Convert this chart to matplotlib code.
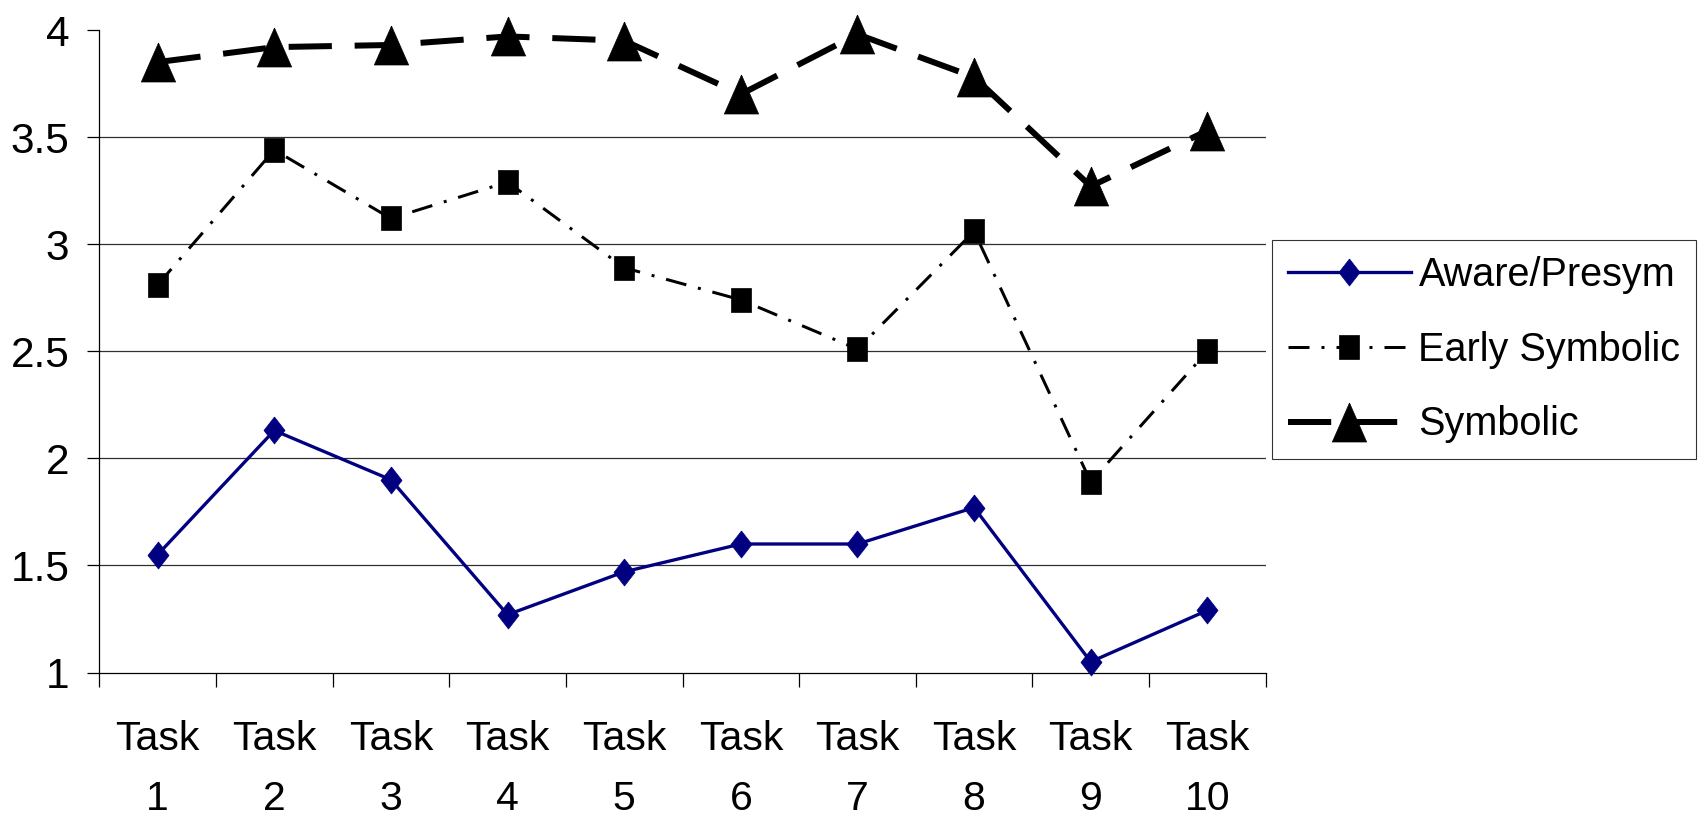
import matplotlib
matplotlib.use("Agg")
import matplotlib.pyplot as plt

# ---- data ----
categories = ["Task 1", "Task 2", "Task 3", "Task 4", "Task 5",
              "Task 6", "Task 7", "Task 8", "Task 9", "Task 10"]
aware = [1.55, 2.13, 1.90, 1.27, 1.47, 1.60, 1.60, 1.77, 1.05, 1.29]
early = [2.81, 3.44, 3.12, 3.29, 2.89, 2.74, 2.51, 3.06, 1.89, 2.50]
symbolic = [3.85, 3.92, 3.93, 3.97, 3.95, 3.70, 3.98, 3.78, 3.27, 3.53]
series_names = ["Aware/Presym", "Early Symbolic", "Symbolic"]
yticks = [1, 1.5, 2, 2.5, 3, 3.5, 4]
ytick_labels = ["1", "1.5", "2", "2.5", "3", "3.5", "4"]

plt.rcParams["font.family"] = ["Liberation Sans", "DejaVu Sans"]

W, H = 1705, 818
fig = plt.figure(figsize=(W / 100, H / 100), dpi=100)
left, right, top, bottom = 99.3, 1265.7, 30.0, 672.5
ax = fig.add_axes([left / W, 1 - bottom / H, (right - left) / W, (bottom - top) / H])

n = len(categories)
x = list(range(1, n + 1))
ax.set_xlim(0.5, n + 0.5)
ax.set_ylim(1, 4)

# gridlines (none at the top value)
for v in yticks[1:-1]:
    ax.axhline(v, color="#303030", lw=0.9, zorder=1)

# markers (slightly tall shapes)
diamond = [(0, 0.5), (0.39, 0), (0, -0.5), (-0.39, 0), (0, 0.5)]
square = [(-0.41, -0.5), (0.41, -0.5), (0.41, 0.5), (-0.41, 0.5), (-0.41, -0.5)]
triangle = [(0, 0.5), (0.44, -0.5), (-0.44, -0.5), (0, 0.5)]

px = 72 / 100  # points per pixel
ax.plot(x, aware, color="#000080", lw=3.3 * px, marker=diamond, ms=27 * px,
        mfc="#000080", mec="#000080", mew=0.5, label=series_names[0],
        clip_on=False, zorder=3)
ax.plot(x, early, color="black", lw=3 * px, linestyle=(0, (7, 4, 1, 4)),
        marker=square, ms=24 * px, mfc="black", mec="black", mew=0.5,
        label=series_names[1], clip_on=False, zorder=4)
ax.plot(x, symbolic, color="black", lw=6 * px, linestyle=(0, (7.2, 3.8)),
        marker=triangle, ms=39 * px, mfc="black", mec="black", mew=0.5,
        label=series_names[2], clip_on=False, zorder=5)

# spines
for s in ["top", "right"]:
    ax.spines[s].set_visible(False)
for s in ["left", "bottom"]:
    ax.spines[s].set_linewidth(0.9)
    ax.spines[s].set_color("black")

# y ticks
ax.set_yticks(yticks)
ax.set_yticklabels(ytick_labels)
ax.tick_params(axis="y", direction="out", length=12 * px, width=0.9,
               pad=18 * px, labelsize=30.5, colors="black")

# x ticks: boundaries as major ticks, labels on minor ticks at centres
ax.set_xticks([i + 0.5 for i in range(0, n + 1)])
ax.set_xticklabels([])
ax.set_xticks(x, minor=True)
ax.set_xticklabels([c.replace(" ", "\n") for c in categories], minor=True,
                   linespacing=1.75)
ax.tick_params(axis="x", which="major", direction="out", length=14 * px, width=0.9)
ax.tick_params(axis="x", which="minor", length=0, pad=47 * px, labelsize=29.5)

leg = ax.legend(loc="upper left", bbox_to_anchor=(1272 / W, 1 - 240 / H),
                bbox_transform=fig.transFigure, borderaxespad=0,
                fontsize=28.5, frameon=True, fancybox=False, shadow=False,
                handlelength=3.1, handletextpad=0.2, borderpad=0.4,
                labelspacing=0.93)
leg.get_frame().set_edgecolor("black")
leg.get_frame().set_linewidth(0.8)

fig.savefig("out.png", dpi=100)
